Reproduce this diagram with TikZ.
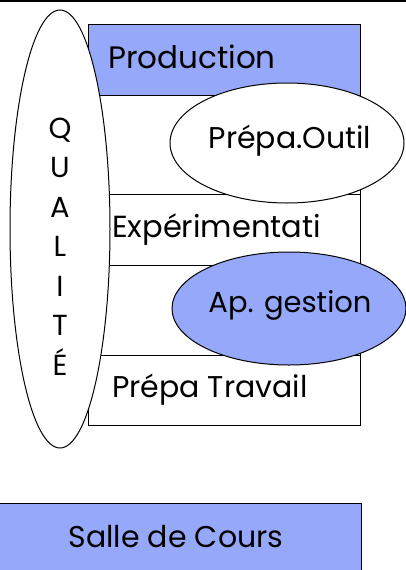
\documentclass[tikz,border=0pt]{standalone}
\usepackage{fontspec}
\setmainfont{Poppins}
\usepackage{xcolor}
\usepackage{tikz}
\usetikzlibrary{positioning, shapes.geometric}
\definecolor{zoneblue}{RGB}{150,168,250}

\begin{document}
\begin{tikzpicture}[
    x=1pt, y=-1pt,
    box/.style={rectangle, draw, line width=1pt, minimum width=272pt, inner sep=0pt, outer sep=0pt},
    bluebox/.style={box, fill=zoneblue},
    oval/.style={ellipse, draw, line width=1pt, fill=white, inner sep=0pt, outer sep=0pt},
    boxtext/.style={font=\fontsize{30}{36}\selectfont, inner sep=0pt, anchor=base west},
    ovaltext/.style={font=\fontsize{29}{34}\selectfont, inner sep=0pt, anchor=base},
]
\useasboundingbox (0,0) rectangle (406,570);
\draw[line width=3pt] (0,0) -- (406,0);

% stack of zones
\node[bluebox, minimum height=71pt] (prod) at (224,59.5) {};
\node[box, minimum height=99pt, below=0pt of prod] (zone2) {};
\node[box, minimum height=71pt, below=0pt of zone2] (exper) {};
\node[box, minimum height=90pt, below=0pt of exper] (zone4) {};
\node[box, minimum height=70pt, below=0pt of zone4] (travail) {};
\node[bluebox, minimum width=363pt, minimum height=69pt] (salle) at (179.5,537.5) {};

% ovals on top
\node[oval, minimum width=100pt, minimum height=438pt] (qualite) at (60,229) {};
\node[oval, minimum width=234pt, minimum height=120pt] (outil) at (287,143) {};
\node[oval, fill=zoneblue, minimum width=234pt, minimum height=113pt] (gestion) at (289,308.5) {};

% labels
\node[boxtext, font=\fontsize{31}{36}\selectfont] (prodtxt) at (108,68) {Production};
\node[boxtext, font=\fontsize{30.5}{36}\selectfont] (expertxt) at (112,237) {Expérimentati};
\node[boxtext] (travailtxt) at (112,397) {Prépa Travail};
\node[boxtext, anchor=base] (salletxt) at (176,547) {Salle de Cours};
\node[ovaltext, font=\fontsize{30}{34}\selectfont] (outiltxt) at (290,148) {Prépa.Outil};
\node[ovaltext] (gestiontxt) at (290,312) {Ap. gestion};
\foreach \l [count=\i] in {Q,U,A,L,I,T,É}
    \node[ovaltext] (q\i) at (60,{98.5+39.5*\i}) {\l};
\end{tikzpicture}
\end{document}
